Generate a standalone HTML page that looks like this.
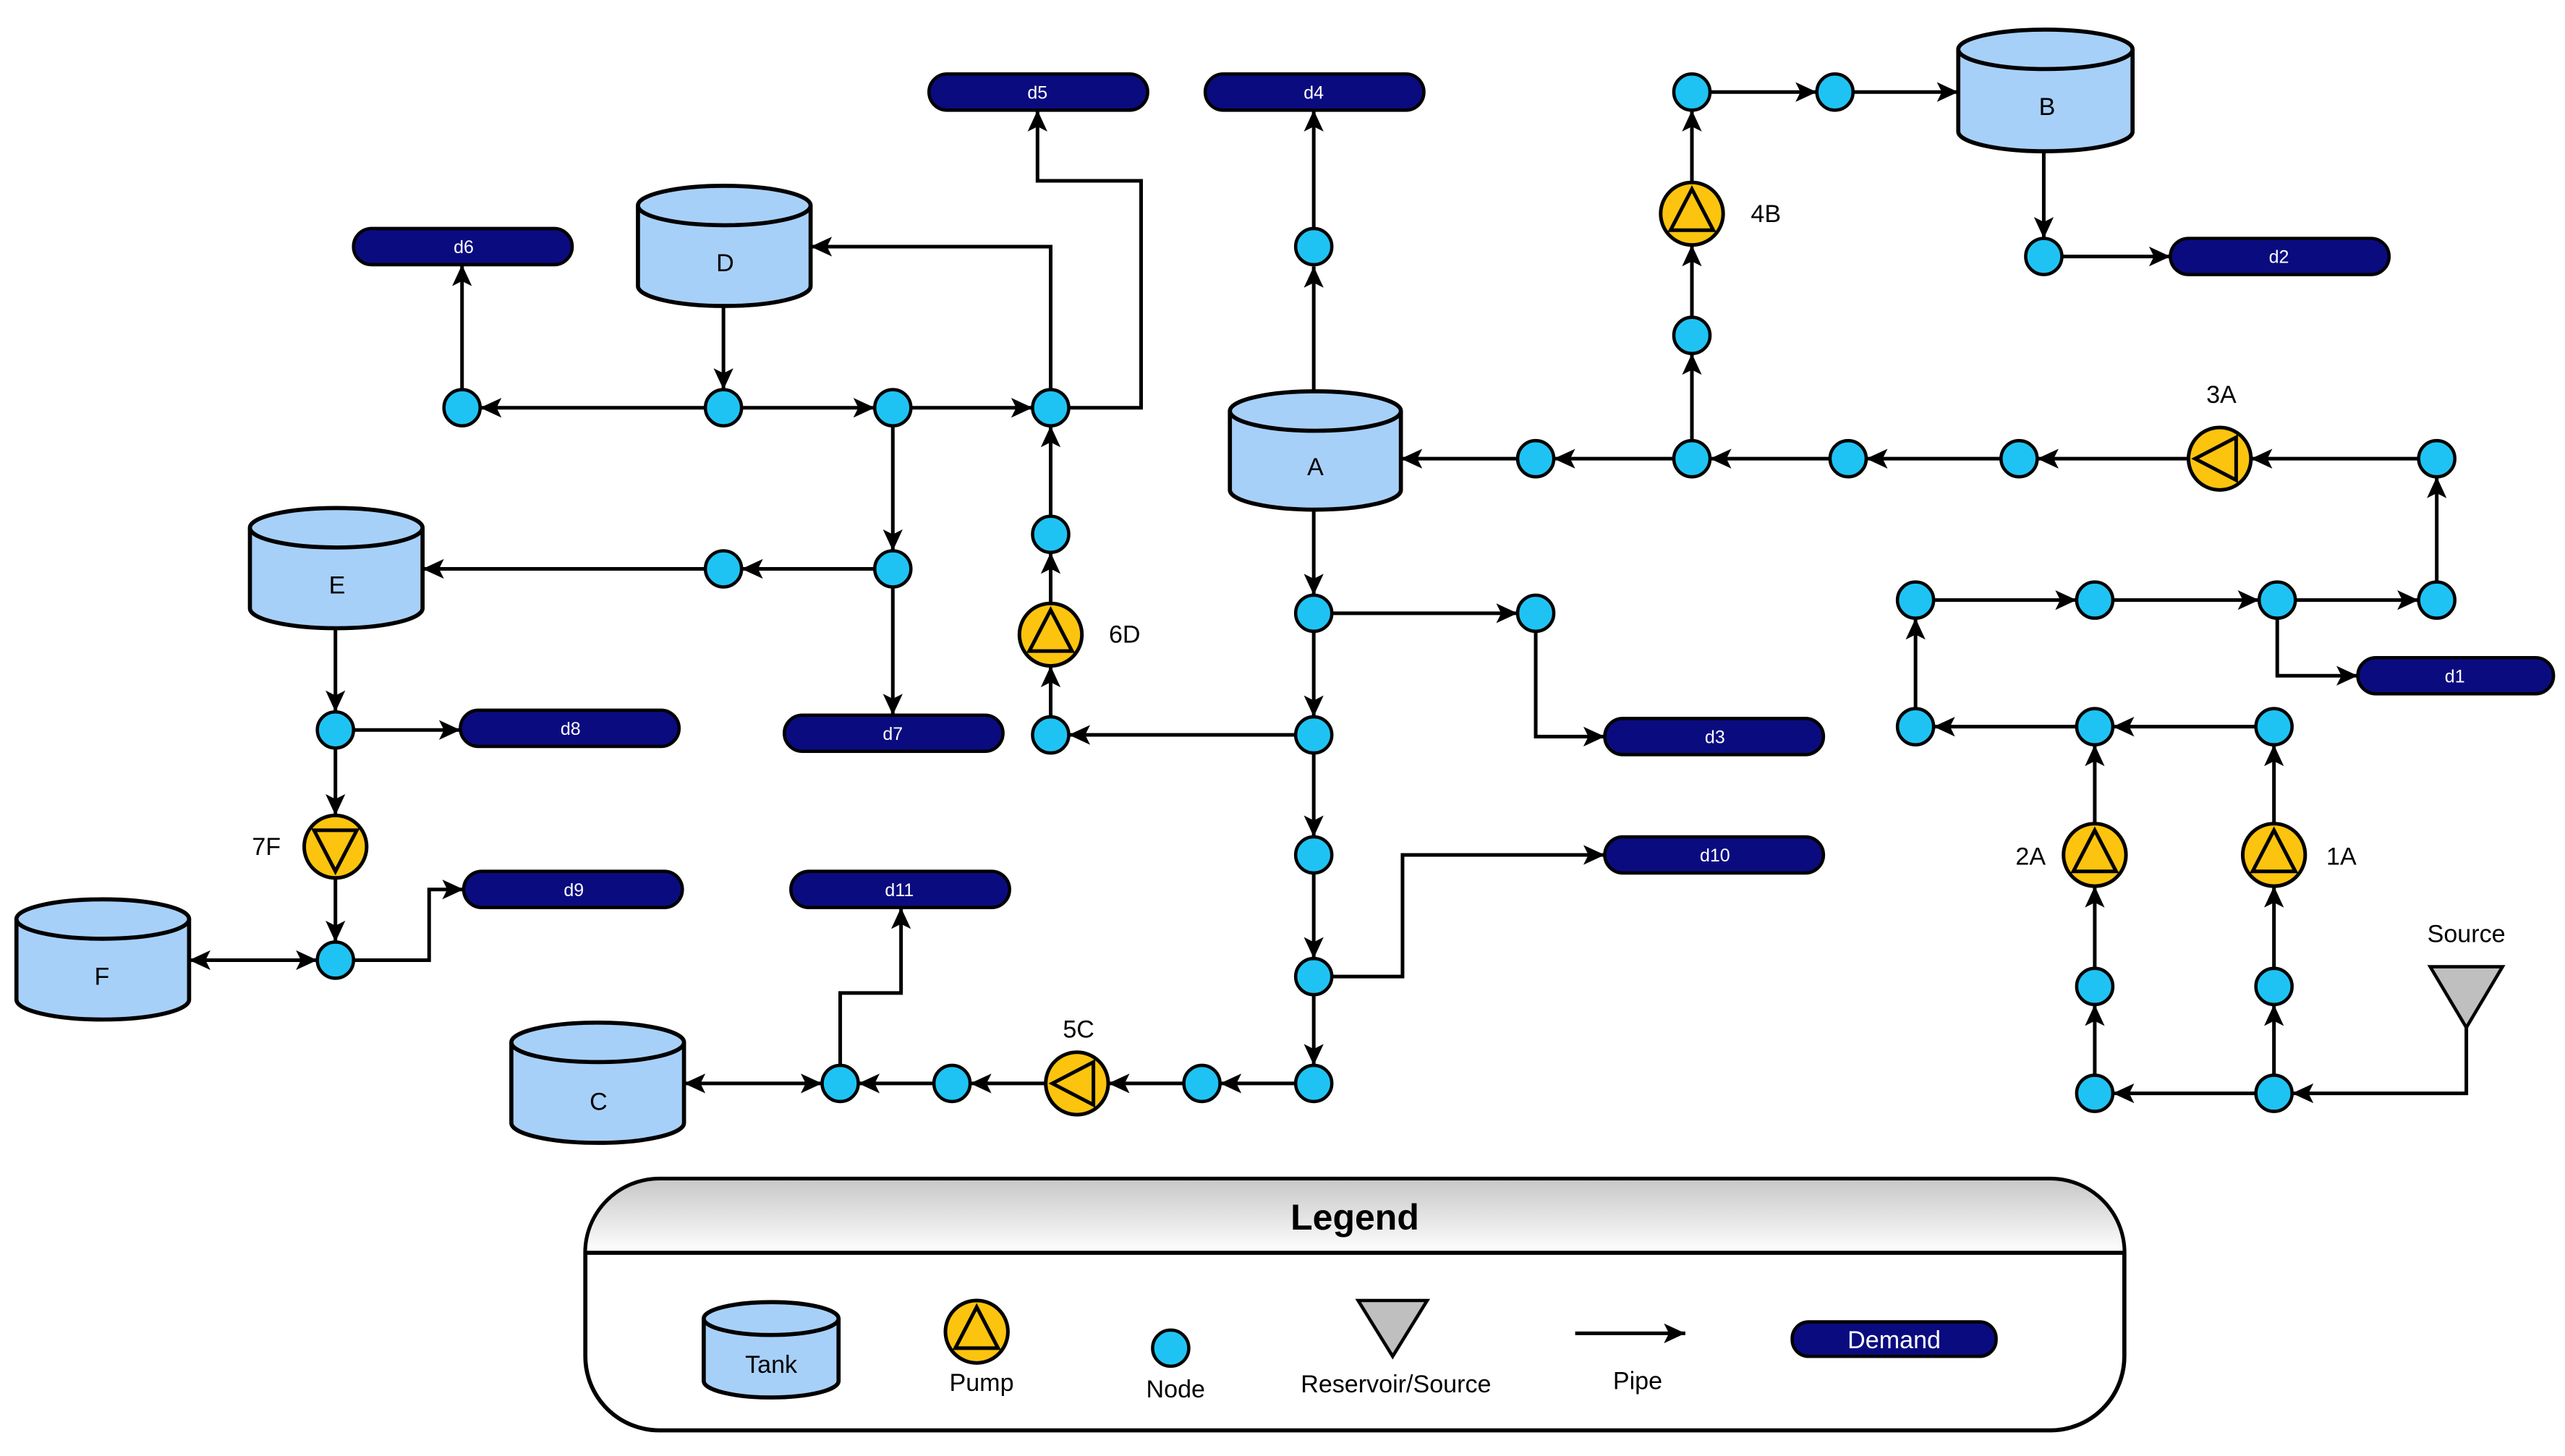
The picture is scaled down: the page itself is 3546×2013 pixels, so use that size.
<!DOCTYPE html>
<html><head><meta charset="utf-8"><style>html,body{margin:0;padding:0;background:#fff}svg{display:block}text{font-family:"Liberation Sans",Arial,sans-serif}</style></head><body>
<svg width="3546" height="2013" viewBox="0 0 1560 885.6" preserveAspectRatio="none" xmlns="http://www.w3.org/2000/svg">
<defs>
<marker id="a" markerUnits="userSpaceOnUse" markerWidth="14" markerHeight="12" refX="13" refY="6" orient="auto"><path d="M0,0 L13,6 L0,12 L3,6 z" fill="#000"/></marker>
<marker id="s" markerUnits="userSpaceOnUse" markerWidth="14" markerHeight="12" refX="1" refY="6" orient="auto"><path d="M14,0 L1,6 L14,12 L11,6 z" fill="#000"/></marker>
<linearGradient id="g" x1="0" y1="0" x2="0" y2="1"><stop offset="0" stop-color="#c8c8c8"/><stop offset="1" stop-color="#fff"/></linearGradient>
</defs>
<path d="M401,717H1247A45,45 0 0 1 1292,762V825A45,45 0 0 1 1247,870H401A45,45 0 0 1 356,825V762A45,45 0 0 1 401,717Z" fill="#fff" stroke="#000" stroke-width="2.5"/>
<path d="M401,718H1247A44,44 0 0 1 1291,762H357A44,44 0 0 1 401,718Z" fill="url(#g)"/>
<path d="M357,762H1291" stroke="#000" stroke-width="2.5"/>
<text x="824" y="748" font-size="22" font-weight="bold" text-anchor="middle">Legend</text>
<g stroke="#000" stroke-width="2.2" fill="none" marker-end="url(#a)">
<path d="M799,238V162"/><path d="M799,139V67"/>
<path d="M1040,56H1105"/><path d="M1127,56H1191"/>
<path d="M1029,193V149"/><path d="M1029,111V67"/><path d="M1029,268V215"/>
<path d="M1243,92V145"/><path d="M1254,156H1320"/>
<path d="M1471,279H1369"/><path d="M1331,279H1239"/><path d="M1217,279H1135"/><path d="M1113,279H1040"/><path d="M1018,279H945"/><path d="M923,279H852"/>
<path d="M1482,354V290"/>
<path d="M1176,365H1263"/><path d="M1285,365H1374"/><path d="M1396,365H1471"/>
<path d="M1385,376V411H1434"/>
<path d="M1165,431V376"/><path d="M1263,442H1176"/><path d="M1372,442H1285"/>
<path d="M1274,501V453"/><path d="M1274,589V539"/><path d="M1274,654V611"/>
<path d="M1383,501V453"/><path d="M1383,589V539"/><path d="M1383,654V611"/>
<path d="M1372,665H1285"/><path d="M1500,625V665H1394"/>
<path d="M799,310V362"/><path d="M810,373H923"/><path d="M934,384V448H976"/>
<path d="M799,384V436"/><path d="M788,447H650"/><path d="M639,436V405"/><path d="M639,367V336"/><path d="M639,314V259"/>
<path d="M799,458V509"/><path d="M799,531V583"/><path d="M810,594H853V520H976"/><path d="M799,605V648"/>
<path d="M788,659H742"/><path d="M720,659H674"/><path d="M636,659H590"/><path d="M568,659H522"/>
<path d="M500,659H416" marker-start="url(#s)"/>
<path d="M511,648V604H548V552"/>
<path d="M440,186V237"/><path d="M429,248H292"/><path d="M281,237V161"/><path d="M451,248H532"/><path d="M554,248H628"/>
<path d="M650,248H694V110H631V67"/><path d="M639,237V150H493"/>
<path d="M543,259V335"/><path d="M532,346H451"/><path d="M429,346H257"/><path d="M543,357V435"/>
<path d="M204,382V433"/><path d="M215,444H280"/><path d="M204,455V496"/><path d="M204,534V573"/>
<path d="M193,584H115" marker-start="url(#s)"/>
<path d="M215,584H261V541H282"/>
<path d="M958,811H1025"/>
</g>
<g fill="#a7d0f8" stroke="#000" stroke-width="2.5">
<path d="M748,250V298A52,12 0 0 0 852,298V250"/><ellipse cx="800" cy="250" rx="52" ry="12"/>
<path d="M1191,30V80A53,12 0 0 0 1297,80V30"/><ellipse cx="1244" cy="30" rx="53" ry="12"/>
<path d="M388,125V174A52,12 0 0 0 493,174V125"/><ellipse cx="440.5" cy="125" rx="52.5" ry="12"/>
<path d="M152,321V370A52,12 0 0 0 257,370V321"/><ellipse cx="204.5" cy="321" rx="52.5" ry="12"/>
<path d="M10,559V608A52,12 0 0 0 115,608V559"/><ellipse cx="62.5" cy="559" rx="52.5" ry="12"/>
<path d="M311,634V683A52,12 0 0 0 416,683V634"/><ellipse cx="363.5" cy="634" rx="52.5" ry="12"/>
<path d="M428,802V840A41,10 0 0 0 510,840V802"/><ellipse cx="469" cy="802" rx="41" ry="10"/>
</g>
<g font-size="15" text-anchor="middle" fill="#000">
<text x="800" y="289">A</text><text x="1245" y="70">B</text><text x="441" y="165">D</text><text x="205" y="361">E</text><text x="62" y="599">F</text><text x="364" y="675">C</text><text x="469" y="835">Tank</text>
</g>
<g fill="#0b0b80" stroke="#000" stroke-width="2">
<rect x="565" y="45" width="133" height="22" rx="11"/><rect x="733" y="45" width="133" height="22" rx="11"/><rect x="215" y="139" width="133" height="22" rx="11"/><rect x="1320" y="145" width="133" height="22" rx="11"/><rect x="1434" y="400" width="119" height="22" rx="11"/><rect x="976" y="437" width="133" height="22" rx="11"/><rect x="280" y="432" width="133" height="22" rx="11"/><rect x="477" y="435" width="133" height="22" rx="11"/><rect x="976" y="509" width="133" height="22" rx="11"/><rect x="282" y="530" width="133" height="22" rx="11"/><rect x="481" y="530" width="133" height="22" rx="11"/><rect x="1090" y="804" width="124" height="21" rx="10"/>
</g>
<g font-size="11" fill="#fff" text-anchor="middle">
<text x="631" y="60">d5</text><text x="799" y="60">d4</text><text x="282" y="154">d6</text><text x="1386" y="160">d2</text><text x="1493" y="415">d1</text><text x="1043" y="452">d3</text><text x="347" y="447">d8</text><text x="543" y="450">d7</text><text x="1043" y="524">d10</text><text x="349" y="545">d9</text><text x="547" y="545">d11</text><text x="1152" y="820" font-size="15">Demand</text>
</g>
<g fill="#1fc3f3" stroke="#000" stroke-width="2">
<circle cx="281" cy="248" r="11"/><circle cx="440" cy="248" r="11"/><circle cx="543" cy="248" r="11"/><circle cx="639" cy="248" r="11"/><circle cx="799" cy="150" r="11"/><circle cx="1029" cy="56" r="11"/><circle cx="1116" cy="56" r="11"/><circle cx="1029" cy="204" r="11"/><circle cx="1243" cy="156" r="11"/><circle cx="934" cy="279" r="11"/><circle cx="1029" cy="279" r="11"/><circle cx="1124" cy="279" r="11"/><circle cx="1228" cy="279" r="11"/><circle cx="1482" cy="279" r="11"/><circle cx="543" cy="346" r="11"/><circle cx="440" cy="346" r="11"/><circle cx="639" cy="325" r="11"/><circle cx="799" cy="373" r="11"/><circle cx="934" cy="373" r="11"/><circle cx="1165" cy="365" r="11"/><circle cx="1274" cy="365" r="11"/><circle cx="1385" cy="365" r="11"/><circle cx="1482" cy="365" r="11"/><circle cx="204" cy="444" r="11"/><circle cx="639" cy="447" r="11"/><circle cx="799" cy="447" r="11"/><circle cx="1165" cy="442" r="11"/><circle cx="1274" cy="442" r="11"/><circle cx="1383" cy="442" r="11"/><circle cx="799" cy="520" r="11"/><circle cx="204" cy="584" r="11"/><circle cx="799" cy="594" r="11"/><circle cx="1274" cy="600" r="11"/><circle cx="1383" cy="600" r="11"/><circle cx="511" cy="659" r="11"/><circle cx="579" cy="659" r="11"/><circle cx="731" cy="659" r="11"/><circle cx="799" cy="659" r="11"/><circle cx="1274" cy="665" r="11"/><circle cx="1383" cy="665" r="11"/><circle cx="712" cy="820" r="11"/>
</g>
<g fill="#fcc40e" stroke="#000" stroke-width="2.2">
<circle cx="1029" cy="130" r="19"/><path d="M1029,115L1042,140H1016Z"/>
<circle cx="1350" cy="279" r="19"/><path d="M1335,279L1360,266V292Z"/>
<circle cx="639" cy="386" r="19"/><path d="M639,371L652,396H626Z"/>
<circle cx="204" cy="515" r="19"/><path d="M204,530L217,505H191Z"/>
<circle cx="1274" cy="520" r="19"/><path d="M1274,505L1287,530H1261Z"/>
<circle cx="1383" cy="520" r="19"/><path d="M1383,505L1396,530H1370Z"/>
<circle cx="655" cy="659" r="19"/><path d="M640,659L665,646V672Z"/>
<circle cx="594" cy="810" r="19"/><path d="M594,795L607,820H581Z"/>
</g>
<g fill="#bfbfbf" stroke="#000" stroke-width="2"><path d="M1478,588H1522L1500,625Z"/><path d="M826,791H868L847,825Z"/></g>
<g font-size="15" text-anchor="middle" fill="#000">
<text x="1074" y="135">4B</text><text x="1351" y="245">3A</text><text x="684" y="391">6D</text><text x="162" y="520">7F</text><text x="1235" y="526">2A</text><text x="1424" y="526">1A</text><text x="656" y="631">5C</text><text x="1500" y="573">Source</text>
<text x="597" y="846">Pump</text><text x="715" y="850">Node</text><text x="849" y="847">Reservoir/Source</text><text x="996" y="845">Pipe</text>
</g>
</svg>
</body></html>
